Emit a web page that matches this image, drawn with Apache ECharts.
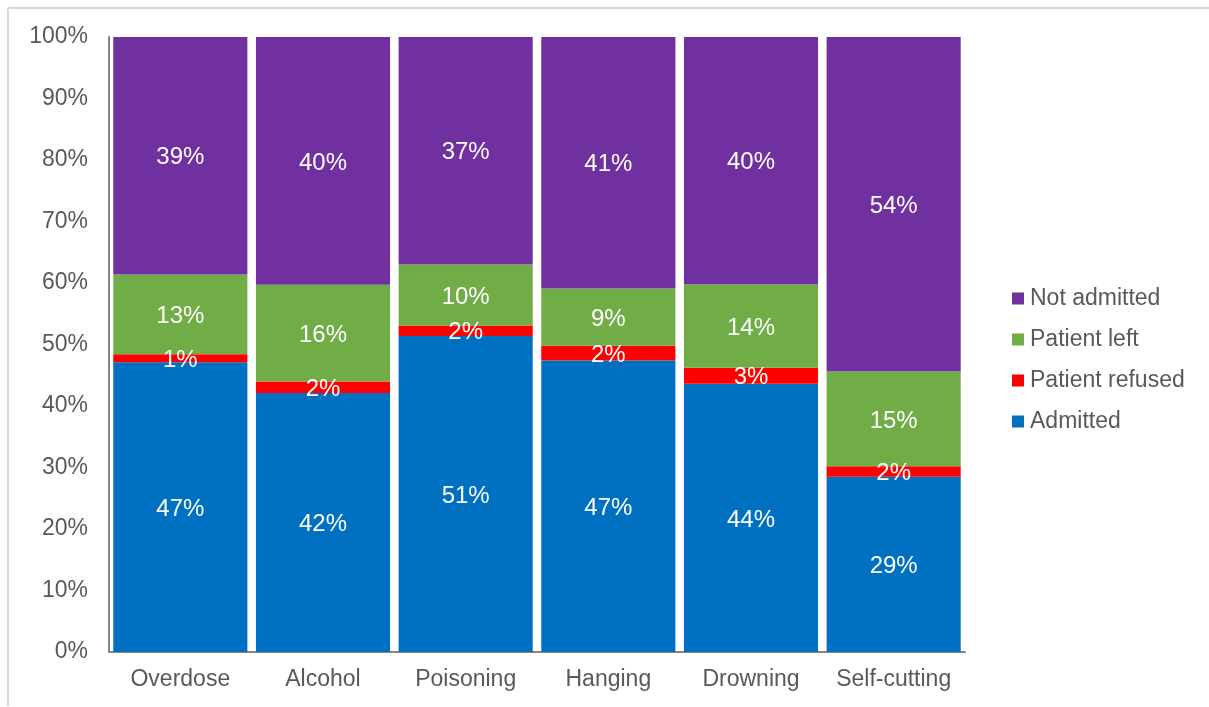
<!DOCTYPE html>
<html>
<head>
<meta charset="utf-8">
<script src="https://cdn.jsdelivr.net/npm/echarts@6/dist/echarts.min.js"></script>
<style>
html,body{margin:0;padding:0;background:#fff;}
#c{width:1209px;height:707px;}
</style>
</head>
<body>
<div id="c"></div>
<script>
var categories = ['Overdose', 'Alcohol', 'Poisoning', 'Hanging', 'Drowning', 'Self-cutting'];
var admitted = [47.1, 42.1, 51.4, 47.4, 43.6, 28.5];
var patientRefused = [1.3, 1.9, 1.7, 2.4, 2.6, 1.7];
var patientLeft = [13.0, 15.7, 9.9, 9.3, 13.6, 15.4];
var notAdmitted = [38.6, 40.3, 37.0, 40.9, 40.2, 54.4];
var yTicks = [0, 10, 20, 30, 40, 50, 60, 70, 80, 90, 100];

var FONT = 'Liberation Sans, Arial, sans-serif';
var GRAY = '#595959';

function series(name, data, color) {
  return {
    name: name,
    type: 'bar',
    stack: 'total',
    data: data,
    barCategoryGap: '6%',
    itemStyle: { color: color },
    label: {
      show: true,
      position: 'inside',
      offset: [0, 2],
      color: '#ffffff',
      fontFamily: FONT,
      fontSize: 24,
      formatter: function (p) { return Math.round(p.value) + '%'; }
    },
    emphasis: { disabled: true }
  };
}

var chart = echarts.init(document.getElementById('c'));
chart.setOption({
  animation: false,
  backgroundColor: '#ffffff',
  graphic: [
    { type: 'line', shape: { x1: 8, y1: 8, x2: 1209, y2: 8 }, style: { stroke: '#d9d9d9', lineWidth: 2 } },
    { type: 'line', shape: { x1: 8, y1: 8, x2: 8, y2: 706 }, style: { stroke: '#d9d9d9', lineWidth: 2 } }
  ],
  grid: { left: 109, right: 244, top: 37, bottom: 55 },
  legend: {
    orient: 'vertical',
    left: 1007,
    top: 282,
    itemWidth: 12,
    itemHeight: 12,
    itemGap: 18,
    icon: 'rect',
    data: ['Not admitted', 'Patient left', 'Patient refused', 'Admitted'],
    textStyle: { color: GRAY, fontFamily: FONT, fontSize: 23, padding: [0, 0, 0, 1] }
  },
  xAxis: {
    type: 'category',
    data: categories,
    axisLine: { lineStyle: { color: '#868686', width: 2 } },
    axisTick: { show: false },
    axisLabel: { color: GRAY, fontFamily: FONT, fontSize: 23, margin: 16, interval: 0 }
  },
  yAxis: {
    type: 'value',
    min: yTicks[0],
    max: yTicks[yTicks.length - 1],
    interval: yTicks[1] - yTicks[0],
    splitLine: { show: false },
    axisLine: { show: true, lineStyle: { color: '#868686', width: 2 } },
    axisTick: { show: false },
    axisLabel: { color: GRAY, fontFamily: FONT, fontSize: 23, margin: 21, padding: [4, 0, 0, 0], formatter: '{value}%' }
  },
  series: [
    series('Admitted', admitted, '#0070C0'),
    series('Patient refused', patientRefused, '#FF0000'),
    series('Patient left', patientLeft, '#70AD47'),
    series('Not admitted', notAdmitted, '#7030A0')
  ]
});
</script>
</body>
</html>
